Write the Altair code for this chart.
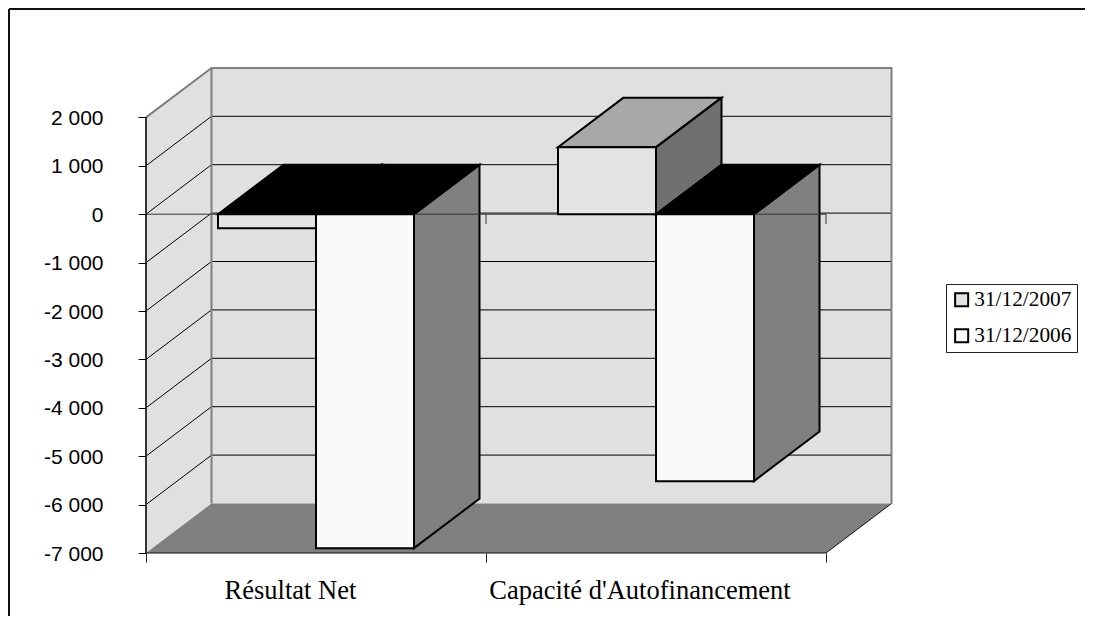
import altair as alt
import pandas as pd

categories = ["Résultat Net", "Capacité d'Autofinancement"]
series = ["31/12/2007", "31/12/2006"]
values_2007 = [-290, 1385]
values_2006 = [-6900, -5515]
y_ticks = [-7000, -6000, -5000, -4000, -3000, -2000, -1000, 0, 1000, 2000]

# layout of the pseudo-3D box, in data units
PX_X = 340.0            # px per category
PX_Y = 0.0484           # px per value unit
DX = 65.5 / PX_X        # depth along x
DY = 49.5 / PX_Y        # depth along y
BAR = 98 / PX_X
GAP = 72 / PX_X
YMIN, YMAX = -7000, 2000
W, H = 745, 485

xs = alt.Scale(domain=[0, W / PX_X], nice=False, zero=False, clamp=False)
ys = alt.Scale(domain=[YMIN, YMIN + H / PX_Y], nice=False, zero=False, clamp=False)
x_axis = alt.Axis(
    values=[0, 0.4235, 1, 1.4515, 2], grid=False, domain=False, zindex=1,
    tickSize=9, tickColor="#222222", tickWidth=1,
    tickOpacity={"condition": {"test": "datum.value % 1 == 0", "value": 1}, "value": 0},
    labelExpr="datum.value == 0.4235 ? '%s' : datum.value == 1.4515 ? \"%s\" : ''" % (categories[0], categories[1]),
    labelFont="Liberation Serif", labelFontSize=26.5, labelColor="black", labelPadding=15,
    labelOverlap=False, labelLimit=500, labelFlush=False)
y_axis = alt.Axis(
    values=y_ticks, grid=False, domain=False, zindex=1,
    tickSize=8, tickColor="black", tickWidth=1,
    labelExpr="(datum.value < 0 ? '-' : '') + replace(format(abs(datum.value), ','), ',', ' ')",
    labelFont="Liberation Sans", labelFontSize=21, labelColor="black", labelPadding=35,
    labelOffset=1, labelOverlap=False)
X = alt.X("x:Q", scale=xs, axis=x_axis, title=None)
Y = alt.Y("y:Q", scale=ys, axis=y_axis, title=None)
X2 = alt.X2("x2:Q")
Y2 = alt.Y2("y2:Q")


def line(points, color, width):
    df = pd.DataFrame(points, columns=["x", "y"]).assign(o=range(len(points)))
    return alt.Chart(df).mark_line(color=color, strokeWidth=width, clip=False).encode(
        x=X, y=Y, order="o:Q")


def vface(x0, x1, y0, y1, fill, stroke=None):
    # parallelogram with vertical edges (side face)
    df = pd.DataFrame({"x": [x0, x1], "y": [y0, y0 + DY], "y2": [y1, y1 + DY]})
    kw = dict(stroke=stroke, strokeWidth=2, strokeJoin="miter") if stroke else {}
    return alt.Chart(df).mark_area(color=fill, opacity=1, **kw).encode(x=X, y=Y, y2=Y2)


def hface(x0, x1, y, fill, stroke=None):
    # parallelogram with horizontal edges (top / floor)
    df = pd.DataFrame({"y": [y, y + DY], "x": [x0, x0 + DX], "x2": [x1, x1 + DX]})
    kw = dict(stroke=stroke, strokeWidth=2, strokeJoin="miter") if stroke else {}
    return alt.Chart(df).mark_area(color=fill, opacity=1, orient="horizontal", **kw).encode(
        x=X, x2=X2, y=Y)


layers = []

# Walls
left_wall = vface(0, DX, YMIN, YMAX, "#e0e0e0")
back_wall = alt.Chart(pd.DataFrame({"x": [DX], "x2": [2 + DX], "y": [YMIN + DY], "y2": [YMAX + DY]})).mark_rect(
    color="#e0e0e0").encode(x=X, x2=X2, y=Y, y2=Y2)
layers += [left_wall, back_wall]

# Grid
for v in y_ticks[1:-1]:
    layers.append(line([(0, v), (DX, v + DY)], "black", 1))
    layers.append(line([(DX, v + DY), (2 + DX, v + DY)], "black", 1))

# Wall edges and floor
layers.append(line([(0, YMAX), (DX, YMAX + DY), (2 + DX, YMAX + DY), (2 + DX, YMIN + DY)], "#808080", 2))
layers.append(line([(DX, YMIN + DY), (DX, YMAX + DY)], "#808080", 2))
layers.append(hface(0, 2, YMIN, "#808080"))
layers.append(line([(0, YMIN), (2, YMIN), (2 + DX, YMIN + DY)], "#111111", 1))
layers.append(line([(0, YMIN), (0, YMAX)], "#333333", 2))

# Bars: sides and tops, back to front
styles = {
    "31/12/2007": {"front": "#e4e4e4", "top": "#a8a8a8", "side": "#707070"},
    "31/12/2006": {"front": "#fafafa", "top": "#000000", "side": "#808080"},
}
rows = []
for i, cat in enumerate(categories):
    for j, (s, vals) in enumerate(zip(series, [values_2007, values_2006])):
        v = vals[i]
        x0 = i + GAP + j * BAR
        x1 = x0 + BAR
        hi, lo = max(v, 0), min(v, 0)
        top = styles[s]["top"] if v > 0 else "#000000"
        layers.append(vface(x1, x1 + DX, lo, hi, styles[s]["side"], "black"))
        layers.append(hface(x0, x1, hi, top, "black"))
        rows.append({"x": x0, "x2": x1, "y": lo, "y2": hi, "series": s})

# Zero plane line and its ticks
layers.append(line([(0, 0), (2, 0)], "#333333", 1))
layers.append(line([(1, 0), (1, -200)], "#333333", 1))
layers.append(line([(2, 0), (2, -200)], "#333333", 1))

# Front faces, carrying the legend
front = alt.Chart(pd.DataFrame(rows)).mark_rect(stroke="black", strokeWidth=2, strokeJoin="miter").encode(
    x=X, x2=X2, y=Y, y2=Y2,
    color=alt.Color("series:N",
                    scale=alt.Scale(domain=series, range=[styles[s]["front"] for s in series]),
                    legend=alt.Legend(
                        title=None, orient="none", legendX=800, legendY=216,
                        strokeColor="#222222", padding=5, fillColor="white",
                        symbolType="square", symbolSize=170, symbolStrokeColor="black",
                        symbolStrokeWidth=2, symbolOpacity=1, rowPadding=13,
                        labelFont="Liberation Serif", labelFontSize=21.3, labelColor="black",
                        labelOffset=2, labelLimit=200)),
)
layers.append(front)

# Outer frame, only its top and left sides fall inside the page
layers.append(alt.Chart(pd.DataFrame({"a": [0]})).mark_rule(color="#111111", strokeWidth=2).encode(
    x=alt.value(-137), y=alt.value(-59), y2=alt.value(600)))
layers.append(alt.Chart(pd.DataFrame({"a": [0]})).mark_rule(color="#111111", strokeWidth=2).encode(
    x=alt.value(-137), x2=alt.value(1000), y=alt.value(-59)))

chart = alt.layer(*layers).properties(
    width=W, height=H,
    autosize=alt.AutoSizeParams(type="none"),
    padding={"left": 138, "top": 60, "right": 194, "bottom": 63},
).configure_view(stroke=None)

chart.save("out.html", embed_options={"renderer": "svg", "actions": False})
